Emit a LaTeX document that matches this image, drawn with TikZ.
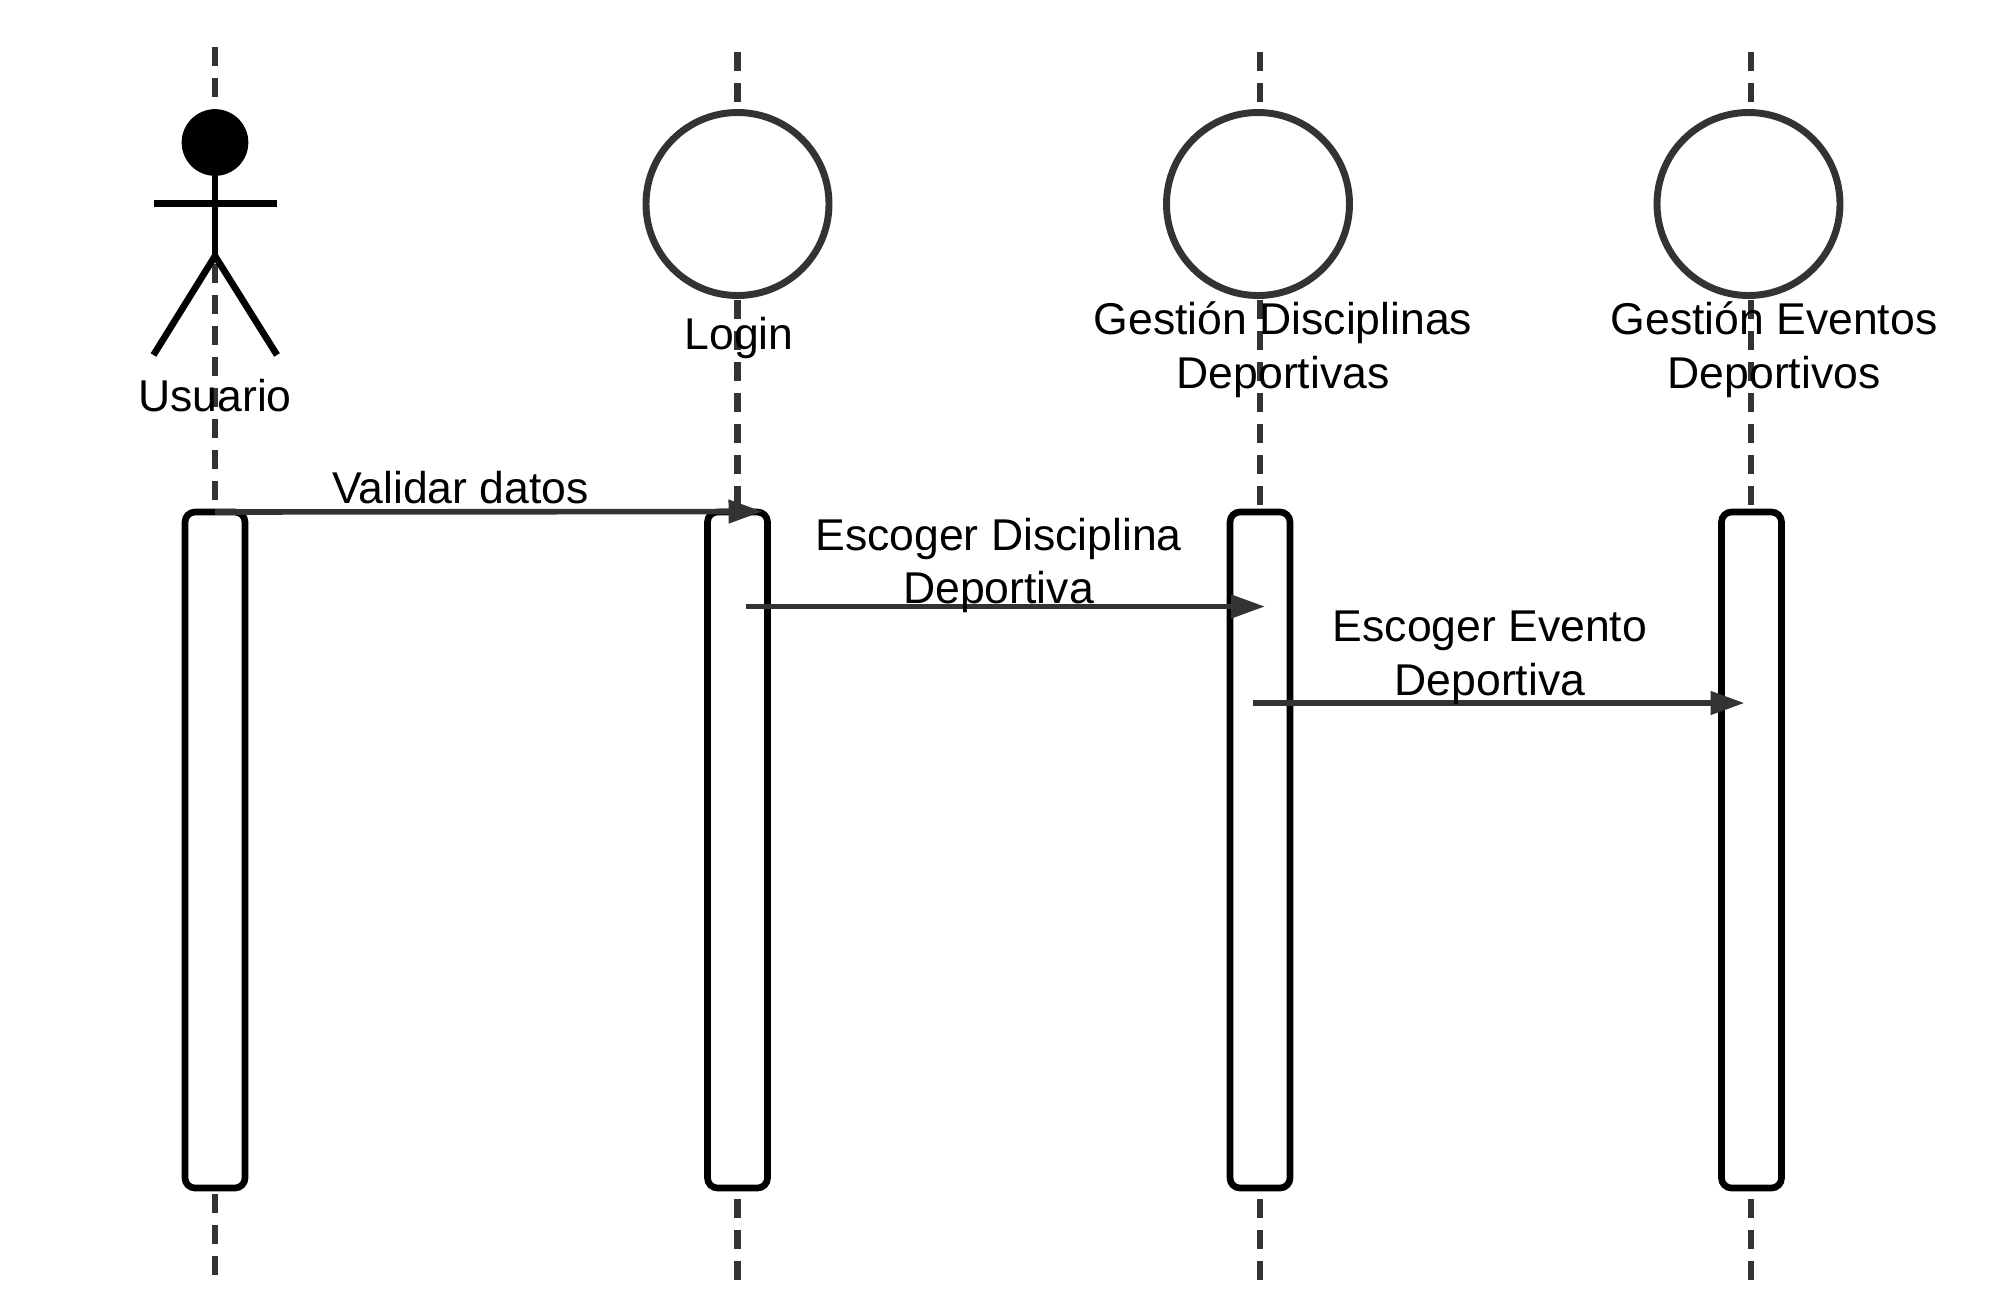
\documentclass[tikz,border=0pt]{standalone}
\usepackage{fontspec}
\setmainfont{Liberation Sans}
\usetikzlibrary{arrows.meta}
\definecolor{lineGray}{HTML}{333333}
\tikzset{
  lifeline/.style={draw=lineGray,line width=4.7pt,dash pattern=on 14.25pt off 9pt},
  objCircle/.style={circle,draw=lineGray,fill=white,line width=5.2pt,minimum size=137.25pt,inner sep=0pt,outer sep=0pt},
  actorHead/.style={circle,fill=black,minimum size=50pt,inner sep=0pt,outer sep=0pt},
  actorLine/.style={draw=black,line width=5pt},
  activation/.style={rectangle,draw=black,fill=white,line width=5pt,rounded corners=7.5pt,minimum width=45pt,minimum height=507pt,inner sep=0pt,outer sep=0pt},
  message/.style={draw=lineGray,line width=4.2pt,-{Triangle[length=25.5pt,width=17pt]}},
  caption/.style={inner sep=0pt,align=center,font=\fontsize{33.4}{40.2}\selectfont},
}
\begin{document}
\begin{tikzpicture}[x=0.75pt,y=0.75pt,yscale=-1,xscale=1]
\useasboundingbox (0,0) rectangle (2000,1315);

%Straight Lines
\coordinate (usuarioTop) at (215,47);
\coordinate (usuarioBot) at (215,1275);
\coordinate (loginTop) at (737.5,52);
\coordinate (loginBot) at (737.5,1280);
\coordinate (disciplinasTop) at (1260,52);
\coordinate (disciplinasBot) at (1260,1280);
\coordinate (eventosTop) at (1751,52);
\coordinate (eventosBot) at (1751,1280);
\draw [lifeline] (usuarioTop) -- (usuarioBot) ;
\draw [lifeline] (loginTop) -- (loginBot) ;
\draw [lifeline] (disciplinasTop) -- (disciplinasBot) ;
\draw [lifeline] (eventosTop) -- (eventosBot) ;

%Shape: Circle
\node [objCircle] (loginCircle) at (737.5,204) {};
\node [objCircle] (disciplinasCircle) at (1258,204) {};
\node [objCircle] (eventosCircle) at (1748.5,204) {};

%Shape: Actor
\node [actorHead] (head) at (215,142.5) {};
\coordinate (armLeft) at (153.5,203.5);
\coordinate (armRight) at (277,203.5);
\coordinate (hip) at (215,256);
\coordinate (footLeft) at (153.5,355);
\coordinate (footRight) at (277,355);
\draw [actorLine] (head) -- (hip) ;
\draw [actorLine] (armLeft) -- (armRight) ;
\draw [actorLine] (footLeft) -- (hip) -- (footRight) ;

%Shape: Rounded Rect
\node [activation] (usuarioBox) at (215,850) {};
\node [activation] (loginBox) at (737.5,850) {};
\node [activation] (disciplinasBox) at (1260,850) {};
\node [activation] (eventosBox) at (1751.5,850) {};

%Straight Lines
\coordinate (validarEnd) at (762.5,511.5);
\coordinate (disciplinaStart) at (746,606.5);
\coordinate (disciplinaEnd) at (1265,606.5);
\coordinate (eventoStart) at (1253,703);
\coordinate (eventoEnd) at (1744.5,703);
\draw [message] (usuarioBox.north) -- (validarEnd) ;
\draw [message] (disciplinaStart) -- (disciplinaEnd) ;
\draw [message] (eventoStart) -- (eventoEnd) ;

% Text Node
\node [caption] (usuarioText) at (215,395.5) {Usuario};
\node [caption] (loginText) at (739,338) {Login};
\node [caption] (disciplinasText) at (1283,350) {Gestión Disciplinas\\Deportivas};
\node [caption] (eventosText) at (1774,350) {Gestión Eventos\\Deportivos};
\node [caption] (validarText) at (460.5,487.5) {Validar datos};
\node [caption] (disciplinaText) at (998.5,565.5) {Escoger Disciplina\\Deportiva};
\node [caption] (eventoText) at (1490,658) {Escoger Evento\\Deportiva};

\end{tikzpicture}
\end{document}
